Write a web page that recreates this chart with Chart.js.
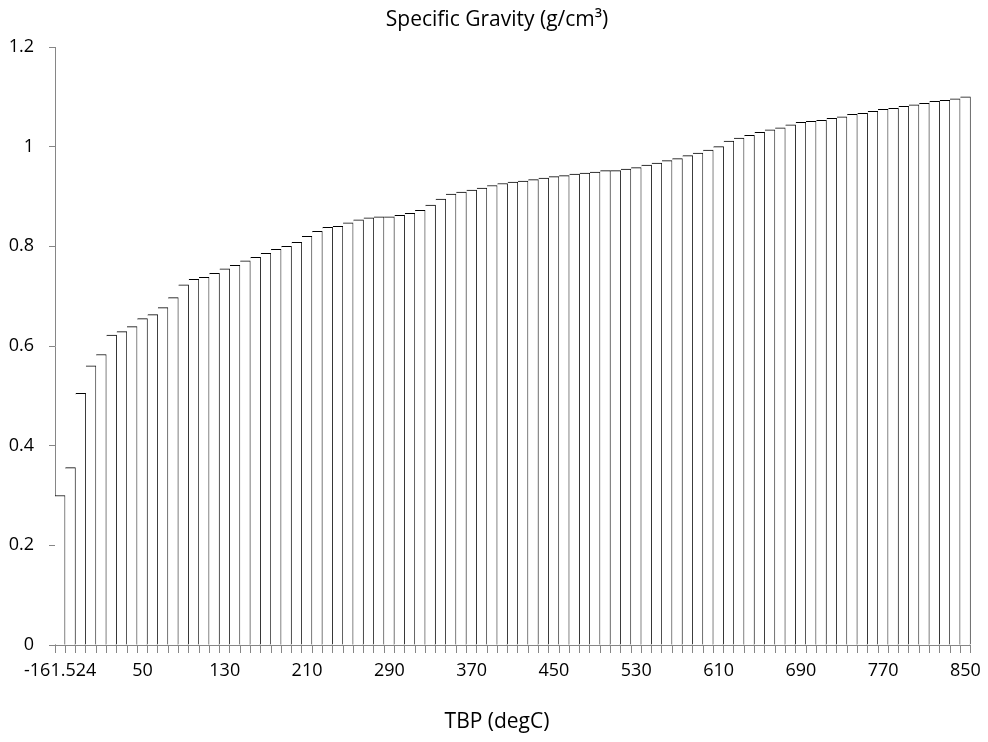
<!DOCTYPE html>
<html>
<head>
<meta charset="utf-8">
<title>Specific Gravity</title>
<script src="https://cdn.jsdelivr.net/npm/chart.js@4/dist/chart.umd.min.js"></script>
<style>
    html, body { margin: 0; padding: 0; background: #fff; }
    #sgChart { display: block; }
</style>
</head>
<body>
<canvas id="sgChart" width="988" height="742"></canvas>
<script>
// TBP categories (degC), first one is methane
const tbpLabels = [
    '-161.524', '-20', '-10', '0', '10', '20', '30', '40', '50', '60',
    '70', '80', '90', '100', '110', '120', '130', '140', '150', '160',
    '170', '180', '190', '200', '210', '220', '230', '240', '250', '260',
    '270', '280', '290', '300', '310', '320', '330', '340', '350', '360',
    '370', '380', '390', '400', '410', '420', '430', '440', '450', '460',
    '470', '480', '490', '500', '510', '520', '530', '540', '550', '560',
    '570', '580', '590', '600', '610', '620', '630', '640', '650', '660',
    '670', '680', '690', '700', '710', '720', '730', '740', '750', '760',
    '770', '780', '790', '800', '810', '820', '830', '840', '850'
];

// specific gravity per cut (g/cm3)
const specificGravity = [
    0.300, 0.356, 0.505, 0.560, 0.583, 0.622, 0.629, 0.639, 0.655, 0.663,
    0.677, 0.697, 0.723, 0.734, 0.738, 0.746, 0.755, 0.762, 0.771, 0.778,
    0.786, 0.794, 0.800, 0.808, 0.820, 0.830, 0.838, 0.840, 0.847, 0.853,
    0.857, 0.859, 0.859, 0.862, 0.866, 0.872, 0.883, 0.895, 0.905, 0.909,
    0.913, 0.917, 0.922, 0.926, 0.929, 0.931, 0.934, 0.937, 0.940, 0.942,
    0.945, 0.947, 0.949, 0.952, 0.952, 0.955, 0.958, 0.963, 0.967, 0.972,
    0.976, 0.982, 0.987, 0.993, 1.000, 1.011, 1.017, 1.023, 1.029, 1.034,
    1.038, 1.044, 1.049, 1.051, 1.053, 1.057, 1.060, 1.065, 1.067, 1.071,
    1.075, 1.077, 1.081, 1.084, 1.087, 1.091, 1.093, 1.096, 1.100
];

const yMin = 0;
const yMax = 1.2;
const yStep = 0.2;
const labelEvery = 8; // only every 8th category gets a label

const axisGray = '#868686';

Chart.defaults.font.family = '"Open Sans", sans-serif';
Chart.defaults.font.size = 18;
Chart.defaults.color = '#000';

const ctx = document.getElementById('sgChart').getContext('2d');

new Chart(ctx, {
    type: 'bar',
    data: {
        labels: tbpLabels,
        datasets: [{
            label: 'Specific Gravity',
            data: specificGravity,
            backgroundColor: '#ffffff',
            borderColor: '#000000',
            borderWidth: { top: 1, right: 1, bottom: 0, left: 0 },
            borderSkipped: false,
            categoryPercentage: 1.0,
            barPercentage: 1.0
        }]
    },
    options: {
        responsive: false,
        animation: false,
        layout: {
            padding: { top: 0, right: 0, bottom: 0, left: 6 }
        },
        plugins: {
            legend: { display: false },
            tooltip: { enabled: false },
            title: {
                display: true,
                text: 'Specific Gravity (g/cm³)',
                color: '#000',
                font: { size: 21, weight: 'normal' },
                padding: { top: 7.4, bottom: 14.4 }
            },
            subtitle: {
                display: true,
                position: 'bottom',
                text: 'TBP (degC)',
                color: '#000',
                font: { size: 21, weight: 'normal' },
                padding: { top: 14.4, bottom: 7.4 }
            }
        },
        scales: {
            x: {
                afterFit: function (scale) { scale.height = 50; },
                border: { color: axisGray, width: 1 },
                grid: {
                    display: true,
                    drawOnChartArea: false,
                    drawTicks: true,
                    tickLength: 8,
                    color: axisGray
                },
                ticks: {
                    autoSkip: false,
                    maxRotation: 0,
                    minRotation: 0,
                    padding: 7,
                    callback: function (value, index) {
                        return index % labelEvery === 0 ? this.getLabelForValue(value) : '';
                    }
                }
            },
            y: {
                min: yMin,
                max: yMax,
                afterFit: function (scale) { scale.width = 49; },
                border: { color: axisGray, width: 1 },
                grid: {
                    display: true,
                    drawOnChartArea: false,
                    drawTicks: true,
                    tickLength: 6,
                    color: axisGray
                },
                ticks: {
                    stepSize: yStep,
                    padding: 15,
                    callback: function (value) {
                        return String(Number(value.toFixed(1)));
                    }
                }
            },
            // empty spacer on the right so the plot stops short of the edge
            spacer: {
                type: 'linear',
                axis: 'y',
                position: 'right',
                min: yMin,
                max: yMax,
                afterFit: function (scale) { scale.width = 16; },
                grid: { display: false },
                border: { display: false },
                ticks: { display: false }
            }
        }
    }
});
</script>
</body>
</html>
